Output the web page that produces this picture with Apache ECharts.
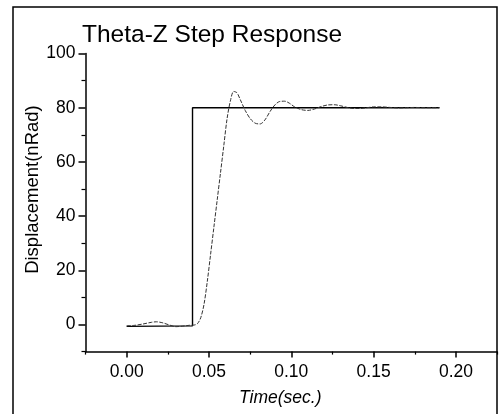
<!DOCTYPE html>
<html>
<head>
<meta charset="utf-8">
<script src="https://cdn.jsdelivr.net/npm/echarts@6/dist/echarts.min.js"></script>
<style>html,body{margin:0;padding:0;background:#fff;}#c{width:499px;height:414px;}</style>
</head>
<body>
<div id="c"></div>
<script>
// ---- data ----
const stepTime  = [0, 0.040, 0.040, 0.190];
const stepValue = [-0.7, -0.5, 80, 80];

const respTime = [0, 0.005, 0.010, 0.015, 0.018, 0.022, 0.026, 0.030, 0.034, 0.038, 0.041, 0.043,
  0.045, 0.047, 0.049, 0.051, 0.053, 0.055, 0.057, 0.059, 0.061, 0.063, 0.065, 0.067, 0.069,
  0.072, 0.075, 0.078, 0.081, 0.084, 0.087, 0.090, 0.093, 0.096, 0.099, 0.102, 0.106, 0.110,
  0.114, 0.118, 0.122, 0.126, 0.130, 0.134, 0.138, 0.142, 0.146, 0.150, 0.155, 0.160, 0.165,
  0.170, 0.175, 0.180, 0.185, 0.190];
const respValue = [-0.5, -0.3, 0.2, 0.8, 1.0, 0.6, -0.2, -0.8, -0.6, -0.3, -0.2, 0.3,
  2.5, 7.5, 16, 26, 36, 46, 56, 66, 76, 82.5, 86, 85.5, 83,
  79, 76, 74.3, 74, 75.5, 78.5, 81, 82.3, 82.4, 81.6, 80.3, 79.3, 79,
  79.5, 80.4, 81, 81.1, 80.7, 80.1, 79.7, 79.7, 80, 80.3, 80.3, 80.1, 79.9,
  80, 80.1, 80, 80, 80];

const xMajorTicks = [0, 0.05, 0.10, 0.15, 0.20];
const xMinorTicks = [-0.025, 0.025, 0.075, 0.125, 0.175, 0.225];
const yMajorTicks = [0, 20, 40, 60, 80, 100];
const yMinorTicks = [-10, 10, 30, 50, 70, 90];

const titleText = 'Theta-Z Step Response';
const xName = 'Time(sec.)';
const yName = 'Displacement(nRad)';

// ---- chart ----
const font = 'Arial, "Liberation Sans", Helvetica, sans-serif';
const chart = echarts.init(document.getElementById('c'), null, {renderer: 'canvas'});
const zip = (a, b) => a.map((v, i) => [v, b[i]]);

chart.setOption({
  animation: false,
  backgroundColor: '#fff',
  title: {
    text: titleText, left: 77, top: 18,
    textStyle: {fontFamily: font, fontSize: 24.5, fontWeight: 'normal', color: '#000'}
  },
  grid: {left: 85.5, right: 1.9, top: 53.5, bottom: 62.4, containLabel: false},
  xAxis: [
    {
      type: 'value', min: -0.025, max: 0.225, position: 'bottom',
      splitLine: {show: false},
      axisLine: {show: true, onZero: false, lineStyle: {color: '#000', width: 1.5}},
      name: xName, nameLocation: 'middle', nameGap: 38, nameMoveOverlap: false,
      nameTextStyle: {fontFamily: font, fontSize: 17.5, fontStyle: 'italic', color: '#000', padding: [0, 22, 0, 0]},
      axisTick: {show: true, inside: false, length: 6, customValues: xMajorTicks, lineStyle: {color: '#000', width: 1.5}},
      axisLabel: {show: true, margin: 12, customValues: xMajorTicks, fontFamily: font, fontSize: 17.5, color: '#000',
        formatter: v => v.toFixed(2)}
    },
    {
      type: 'value', min: -0.025, max: 0.225, position: 'bottom',
      splitLine: {show: false},
      axisLine: {show: false, onZero: false},
      axisTick: {show: true, inside: false, length: 3, customValues: xMinorTicks, lineStyle: {color: '#000', width: 1.2}},
      axisLabel: {show: false}
    }
  ],
  yAxis: [
    {
      type: 'value', min: -10, max: 100, position: 'left',
      splitLine: {show: false},
      axisLine: {show: true, onZero: false, lineStyle: {color: '#000', width: 1.5}},
      name: yName, nameLocation: 'middle', nameGap: 43, nameRotate: 90, nameMoveOverlap: false,
      nameTextStyle: {fontFamily: font, fontSize: 18.5, color: '#000', padding: [0, 0, 0, 26]},
      axisTick: {show: true, inside: false, length: 7, customValues: yMajorTicks, lineStyle: {color: '#000', width: 1.5}},
      axisLabel: {show: true, margin: 10, customValues: yMajorTicks, fontFamily: font, fontSize: 17.5, color: '#000'}
    },
    {
      type: 'value', min: -10, max: 100, position: 'left',
      splitLine: {show: false},
      axisLine: {show: false, onZero: false},
      axisTick: {show: true, inside: false, length: 4, customValues: yMinorTicks, lineStyle: {color: '#000', width: 1.2}},
      axisLabel: {show: false}
    }
  ],
  graphic: [{
    type: 'rect', silent: true, z: -1,
    shape: {x: 13, y: 7, width: 484, height: 420},
    style: {fill: 'none', stroke: '#000', lineWidth: 1.5}
  }],
  series: [
    {
      type: 'line', xAxisIndex: 0, yAxisIndex: 0, symbol: 'none',
      data: zip(stepTime, stepValue),
      lineStyle: {color: '#000', width: 1.4}
    },
    {
      type: 'line', xAxisIndex: 0, yAxisIndex: 0, symbol: 'none', smooth: 0.3,
      data: zip(respTime, respValue),
      lineStyle: {color: '#333', width: 1, type: [4, 1.5]}
    }
  ]
});
</script>
</body>
</html>
